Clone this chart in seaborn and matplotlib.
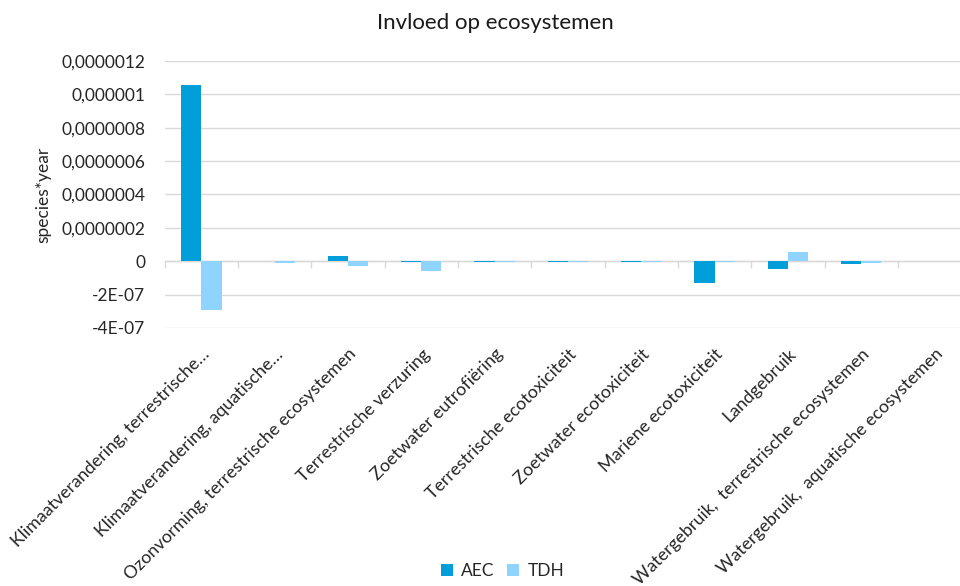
import matplotlib
matplotlib.use("Agg")
import matplotlib.pyplot as plt
import matplotlib.transforms as mtransforms
from matplotlib.lines import Line2D
import seaborn as sns
import pandas as pd

# Impact categories and results per method (species*year)
categories = [
    "Klimaatverandering, terrestrische…",
    "Klimaatverandering, aquatische…",
    "Ozonvorming, terrestrische ecosystemen",
    "Terrestrische verzuring",
    "Zoetwater eutrofiëring",
    "Terrestrische ecotoxiciteit",
    "Zoetwater ecotoxiciteit",
    "Mariene ecotoxiciteit",
    "Landgebruik",
    "Watergebruik,  terrestrische ecosystemen",
    "Watergebruik,  aquatische ecosystemen",
]
aec = [1.055e-6, 2.0e-9, 3.3e-8, -3.0e-9, -3.0e-9, -2.0e-9, -2.0e-9, -1.33e-7, -4.4e-8, -1.5e-8, 0.0]
tdh = [-2.9e-7, -1.2e-8, -3.0e-8, -5.6e-8, -2.0e-9, -2.0e-9, -2.0e-9, -2.0e-9, 5.4e-8, -1.2e-8, 0.0]
series = ["AEC", "TDH"]
colors = ["#009FDA", "#8FD3FF"]

y_ticks = [1.2e-6, 1.0e-6, 8e-7, 6e-7, 4e-7, 2e-7, 0.0, -2e-7, -4e-7]
y_tick_labels = ["0,0000012", "0,000001", "0,0000008", "0,0000006", "0,0000004",
                 "0,0000002", "0", "-2E-07", "-4E-07"]

df = pd.DataFrame({
    "categorie": categories * 2,
    "methode": [series[0]] * len(categories) + [series[1]] * len(categories),
    "waarde": aec + tdh,
})

sns.set_theme(style="white")
plt.rcParams["font.family"] = ["Lato", "DejaVu Sans"]

fig = plt.figure(figsize=(9.6, 5.86), dpi=100)
ax = fig.add_axes([0.1716, 0.4403, 0.84, 0.4556])

sns.barplot(data=df, x="categorie", y="waarde", hue="methode", order=categories,
            hue_order=series, palette=colors, width=0.55, gap=0, saturation=1,
            ax=ax, legend=False, linewidth=0)

ax.set_ylim(-4e-7, 1.2e-6)
ax.set_xlim(-0.5, len(categories) - 0.5)
ax.set_yticks(y_ticks)
ax.set_yticklabels(y_tick_labels)
ax.yaxis.grid(True, color="#D9D9D9", linewidth=1.0)
ax.set_axisbelow(True)
for s in ax.spines.values():
    s.set_visible(False)
ax.tick_params(axis="y", length=0, pad=14, labelsize=12.5, labelcolor="#262626")
ax.tick_params(axis="x", length=0, pad=17, labelsize=12.8, labelcolor="#262626")
ax.set_xlabel("")
ax.set_ylabel("species*year", fontsize=12.5, color="#262626", labelpad=7)

offset = mtransforms.ScaledTranslation(6 / 100, 0, fig.dpi_scale_trans)
for lbl in ax.get_xticklabels():
    lbl.set_rotation(45)
    lbl.set_ha("right")
    lbl.set_va("center")
    lbl.set_rotation_mode("anchor")
    lbl.set_transform(lbl.get_transform() + offset)

# Category axis drawn along the zero line with boundary tick marks
zero_frac = (0 - ax.get_ylim()[0]) / (ax.get_ylim()[1] - ax.get_ylim()[0])
sec = ax.secondary_xaxis(zero_frac)
sec.set_xticks([i + 0.5 for i in range(-1, len(categories))])
sec.set_xticklabels([])
sec.tick_params(axis="x", direction="out", length=5, width=1, color="#D9D9D9")
sec.spines["bottom"].set_color("#D9D9D9")
sec.spines["bottom"].set_linewidth(1.0)

fig.suptitle("Invloed op ecosystemen", x=0.516, y=0.978, fontsize=16, color="#1A1A1A")

handles = [Line2D([0], [0], marker="s", linestyle="none", markersize=8,
                  markerfacecolor=c, markeredgewidth=0) for c in colors]
fig.legend(handles, series, loc="lower center", ncol=2, frameon=False,
           bbox_to_anchor=(0.522, -0.015), fontsize=12.5, handletextpad=0.3,
           columnspacing=0.6, handlelength=1.0)

fig.savefig("out.png", dpi=100)
